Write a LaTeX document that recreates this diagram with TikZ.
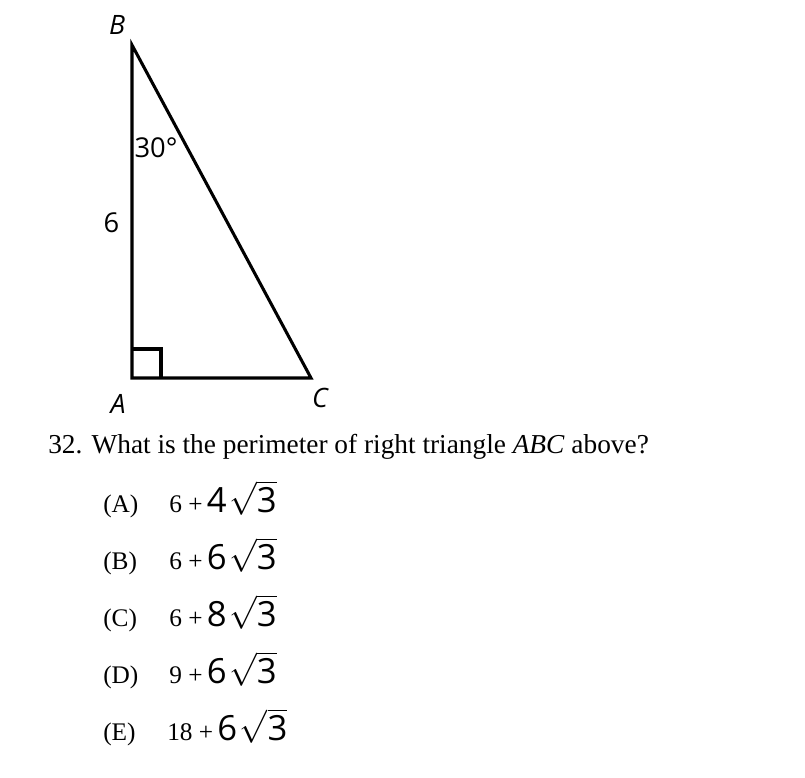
\documentclass[tikz,border=0pt]{standalone}
\usepackage{fontspec}
\setmainfont{Liberation Serif}
\setsansfont{Open Sans}
\usetikzlibrary{positioning}
\newcommand{\rootthree}{$\sqrt{\mbox{3}}$}
\newcommand{\bigsans}{\sffamily\fontsize{26}{26}\selectfont}

\begin{document}
\begin{tikzpicture}[
  x=0.75pt, y=-0.75pt,
  vertex/.style={font=\sffamily\itshape\fontsize{20}{20}\selectfont, inner sep=0},
  sidelabel/.style={font=\sffamily\fontsize{20.5}{20.5}\selectfont, inner sep=0},
  question/.style={font=\fontsize{20.5}{20.5}\selectfont, inner sep=0, anchor=base west},
  choice/.style={font=\fontsize{19}{19}\selectfont, inner sep=0, anchor=base west},
  edge/.style={line width=2.3pt, line join=miter},
]
\useasboundingbox (0,0) rectangle (805,777);
% triangle
\coordinate (A) at (132,378);
\coordinate (B) at (132,45);
\coordinate (C) at (311,378);
\draw[edge] (B) -- (A) -- (C) -- cycle;
\draw[line width=2.6pt] (A) ++(0,-29) -| ++(29,29);
\node[vertex] (lB) at (117,25) {B};
\node[vertex] (lA) at (118,404) {A};
\node[vertex] (lC) at (320,398) {C};
\node[sidelabel] (six) at (111.5,223) {6};
\node[sidelabel] (ang) at (156,148) {30°};
% question
\node[question] (q) at (48,453) {32. What is the perimeter of right triangle \textit{ABC} above?};
% answer choices
\node[choice] (cA) at (103,512) {(A)};
\node[choice] (eA) at (169,512) {6 +\,{\bigsans 4\hspace{2pt}\rootthree}};
\node[choice] (cB) at (103,569) {(B)};
\node[choice] (eB) at (169,569) {6 +\,{\bigsans 6\hspace{2pt}\rootthree}};
\node[choice] (cC) at (103,626) {(C)};
\node[choice] (eC) at (169,626) {6 +\,{\bigsans 8\hspace{2pt}\rootthree}};
\node[choice] (cD) at (103,683) {(D)};
\node[choice] (eD) at (169,683) {9 +\,{\bigsans 6\hspace{2pt}\rootthree}};
\node[choice] (cE) at (103,740) {(E)};
\node[choice] (eE) at (167,740) {18 +\,{\bigsans 6\hspace{2pt}\rootthree}};
\end{tikzpicture}
\end{document}
